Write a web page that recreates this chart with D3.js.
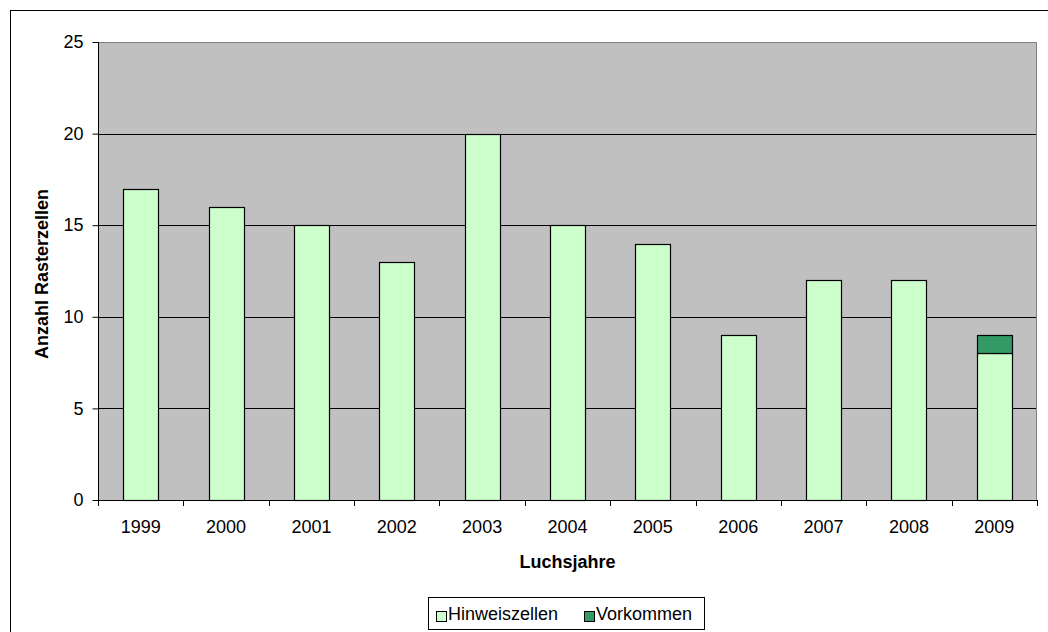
<!DOCTYPE html>
<html>
<head>
<meta charset="utf-8">
<script src="https://cdn.jsdelivr.net/npm/d3@7"></script>
<style>
  html, body { margin: 0; padding: 0; background: #fff; }
  svg { display: block; }
  text { font-family: "Liberation Sans", Arial, sans-serif; fill: #000; }
</style>
</head>
<body>
<svg id="chart" width="1048" height="632"></svg>
<script>
const years = ["1999","2000","2001","2002","2003","2004","2005","2006","2007","2008","2009"];
const hinweiszellen = [17, 16, 15, 13, 20, 15, 14, 9, 12, 12, 8];
const vorkommen = [0, 0, 0, 0, 0, 0, 0, 0, 0, 0, 1];
const yTicks = [0, 5, 10, 15, 20, 25];
const seriesNames = ["Hinweiszellen", "Vorkommen"];
const seriesColors = ["#CCFFCC", "#339966"];

const svg = d3.select("#chart");
const W = 1048, H = 632;
const plot = { left: 98, right: 1037, top: 42, bottom: 500 };

// outer chart border
svg.append("rect")
  .attr("x", 10.5).attr("y", 10.5)
  .attr("width", W).attr("height", H)
  .attr("fill", "#fff").attr("stroke", "#000").attr("stroke-width", 1);

const x = d3.scaleBand()
  .domain(years)
  .range([plot.left, plot.right])
  .paddingInner(0.59)
  .paddingOuter(0.295);

const y = d3.scaleLinear().domain([0, 25]).range([plot.bottom, plot.top]);

// plot background
svg.append("rect")
  .attr("x", plot.left).attr("y", plot.top)
  .attr("width", plot.right - plot.left).attr("height", plot.bottom - plot.top)
  .attr("fill", "#C0C0C0");

// gridlines
svg.append("g").selectAll("line")
  .data(yTicks.filter(d => d > 0 && d < 25))
  .join("line")
  .attr("x1", plot.left).attr("x2", plot.right)
  .attr("y1", d => Math.round(y(d)) + 0.5).attr("y2", d => Math.round(y(d)) + 0.5)
  .attr("stroke", "#000").attr("stroke-width", 1);

// plot border top/right grey
svg.append("path")
  .attr("d", `M${plot.left},${plot.top + 0.5}H${plot.right - 0.5}V${plot.bottom}`)
  .attr("fill", "none").attr("stroke", "#808080").attr("stroke-width", 1);

// stacked data
const table = years.map((yr, i) => ({ year: yr, Hinweiszellen: hinweiszellen[i], Vorkommen: vorkommen[i] }));
const stack = d3.stack().keys(seriesNames)(table);

stack.forEach((layer, li) => {
  svg.append("g").selectAll("rect")
    .data(layer.filter(d => d[1] - d[0] > 0))
    .join("rect")
    .attr("x", d => Math.round(x(d.data.year)) + 0.5)
    .attr("y", d => Math.round(y(d[1])) + 0.5)
    .attr("width", Math.round(x.bandwidth()))
    .attr("height", d => Math.round(y(d[0])) - Math.round(y(d[1])))
    .attr("fill", seriesColors[li])
    .attr("stroke", "#000").attr("stroke-width", 1.2);
});

// y axis
const yAxis = svg.append("g")
  .attr("transform", `translate(${plot.left + 0.5},0)`)
  .call(d3.axisLeft(y).tickValues(yTicks).tickSize(6).tickPadding(9).tickFormat(d3.format("d")));
yAxis.select(".domain").attr("stroke", "#000").attr("d", `M0,${plot.top}V${plot.bottom + 6}`);
yAxis.selectAll(".tick line").attr("stroke", "#000");
yAxis.selectAll(".tick text")
  .style("font-family", '"Liberation Sans", Arial, sans-serif')
  .style("font-size", "18px").attr("fill", "#000");

// x axis line and boundary ticks
const step = x.step();
const boundaries = d3.range(years.length + 1).map(i => plot.left + i * step);
svg.append("line")
  .attr("x1", plot.left).attr("x2", plot.right)
  .attr("y1", plot.bottom + 0.5).attr("y2", plot.bottom + 0.5)
  .attr("stroke", "#000");
svg.append("g").selectAll("line")
  .data(boundaries)
  .join("line")
  .attr("x1", d => Math.round(d) + 0.5).attr("x2", d => Math.round(d) + 0.5)
  .attr("y1", plot.bottom).attr("y2", plot.bottom + 6)
  .attr("stroke", "#000");

svg.append("g").selectAll("text")
  .data(years)
  .join("text")
  .attr("x", d => x(d) + x.bandwidth() / 2)
  .attr("y", 533)
  .attr("text-anchor", "middle")
  .style("font-size", "18px")
  .text(d => d);

// axis titles
svg.append("text")
  .attr("x", (plot.left + plot.right) / 2).attr("y", 568)
  .attr("text-anchor", "middle")
  .style("font-size", "18px").style("font-weight", "bold")
  .text("Luchsjahre");

svg.append("text")
  .attr("transform", "translate(48,274) rotate(-90)")
  .attr("text-anchor", "middle")
  .style("font-size", "18px").style("font-weight", "bold")
  .text("Anzahl Rasterzellen");

// legend
const lg = svg.append("g");
lg.append("rect")
  .attr("x", 428.5).attr("y", 597.5)
  .attr("width", 276).attr("height", 32)
  .attr("fill", "#fff").attr("stroke", "#000");
const legendItems = [
  { name: seriesNames[0], color: seriesColors[0], sx: 436, tx: 448 },
  { name: seriesNames[1], color: seriesColors[1], sx: 584, tx: 596 }
];
legendItems.forEach(it => {
  lg.append("rect")
    .attr("x", it.sx + 0.5).attr("y", 611.5)
    .attr("width", 10).attr("height", 10)
    .attr("fill", it.color).attr("stroke", "#000");
  lg.append("text")
    .attr("x", it.tx).attr("y", 620)
    .style("font-size", "18px")
    .text(it.name);
});
</script>
</body>
</html>
